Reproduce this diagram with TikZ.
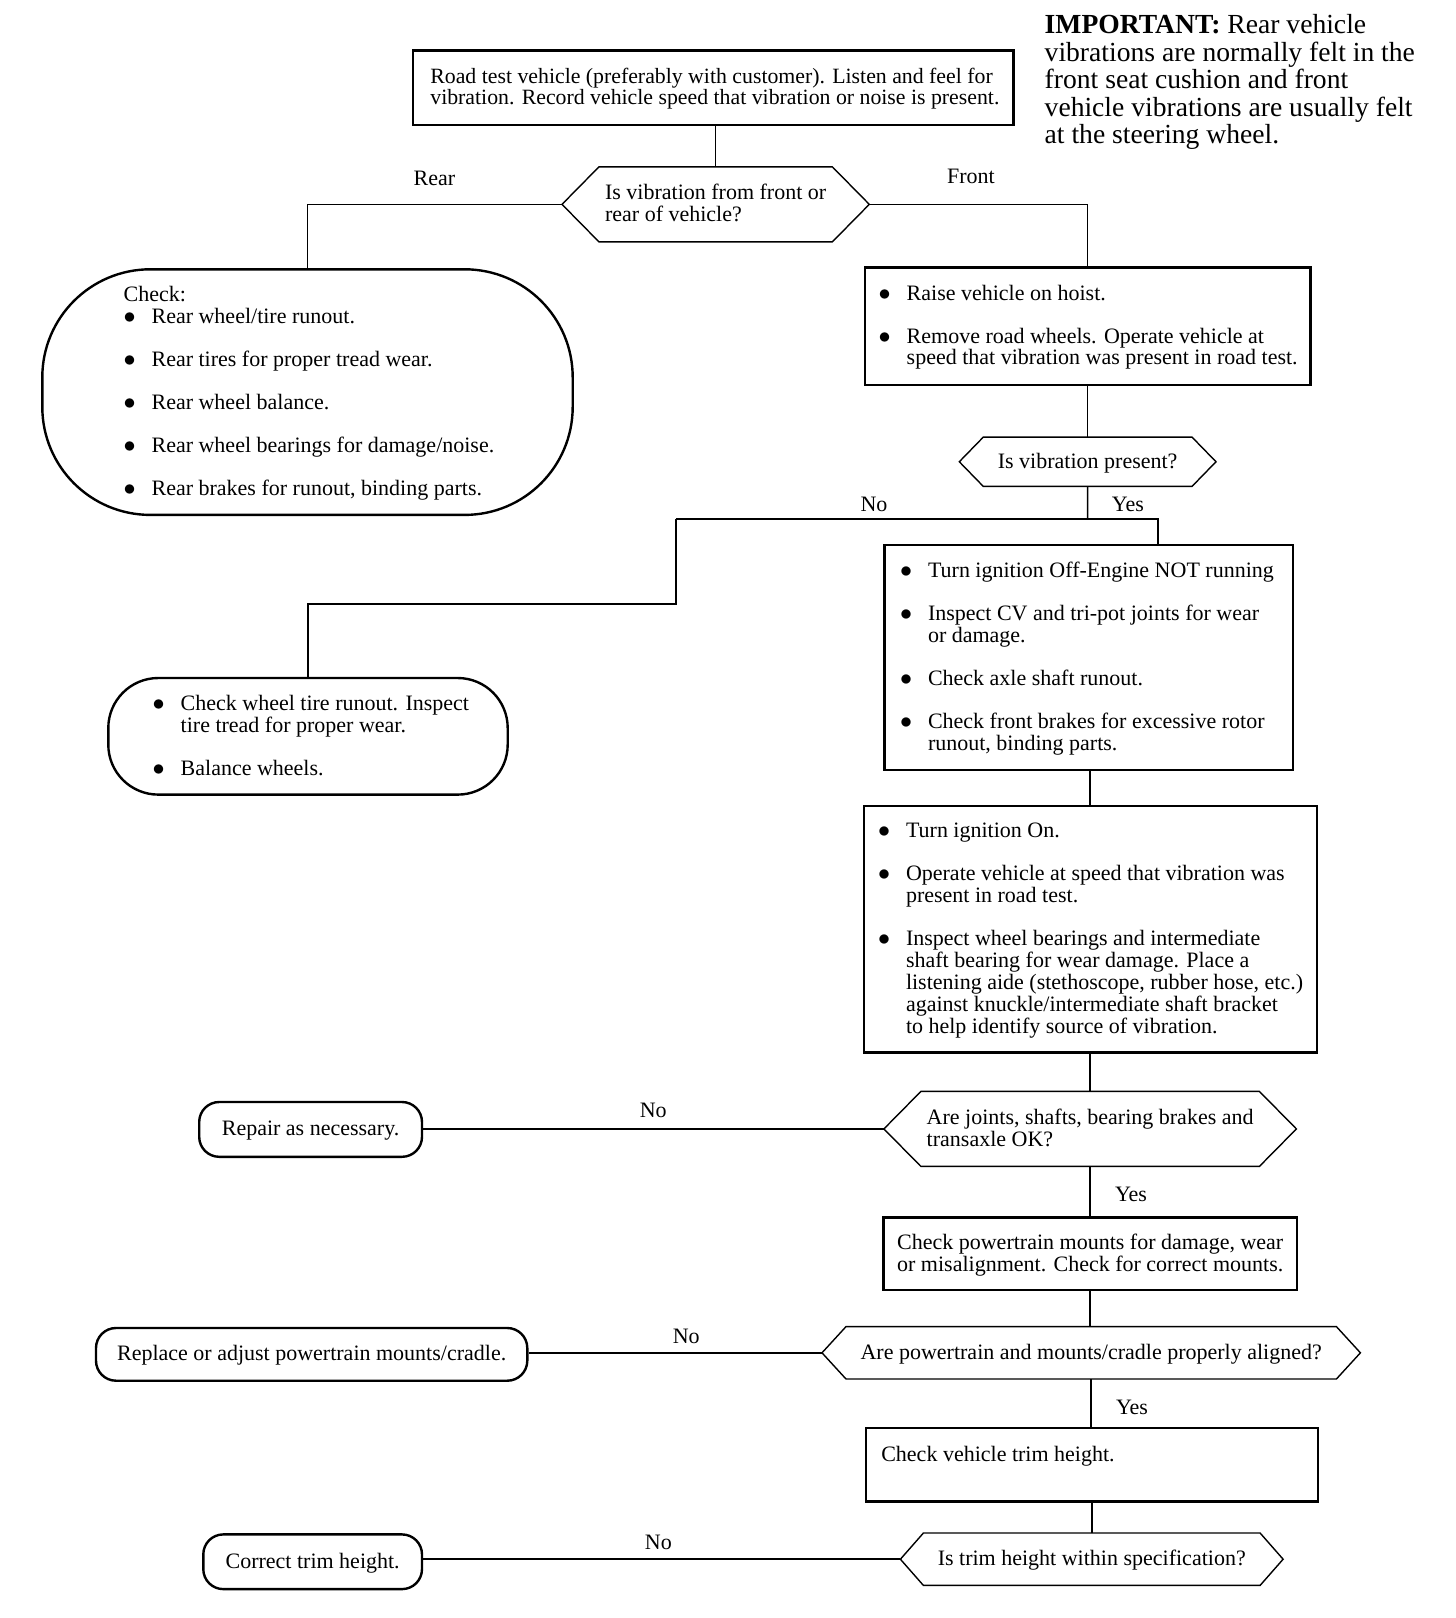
\documentclass[tikz,border=0pt]{standalone}
\usepackage{fontspec}
\setmainfont{Liberation Serif}
\usepackage{graphicx}
\usetikzlibrary{calc}
\newcommand\bul{\makebox[14pt][l]{\smash{\scalebox{1.1}{$\bullet$}}}}
\newcommand\ind{\hspace*{14pt}}
\newcommand\btext[2]{\raisebox{-1pt}[\height][\depth]{\makebox[#1][l]{\begin{tabular}{@{}l@{}}#2\end{tabular}}}}
\newcommand\tl[1]{\raisebox{-1pt}[\height][\depth]{\begin{tabular}{@{}l@{}}#1\end{tabular}}}
\newcommand\hexpath[2]{\draw[hexline] (#1.west) -- ([xshift=#2]#1.north west) -- ([xshift=-#2]#1.north east) -- (#1.east) -- ([xshift=-#2]#1.south east) -- ([xshift=#2]#1.south west) -- cycle;}
\tikzset{
  txt/.style={font=\fontsize{11}{10.8}\selectfont, inner sep=0pt},
  box/.style={draw, line width=1.2pt, rectangle, inner sep=0pt, txt},
  oval/.style={box, rounded corners=#1},
  hexnode/.style={rectangle, inner sep=0pt, txt},
  hexline/.style={line width=0.7pt, line join=miter},
  conn/.style={line width=0.8pt},
  lab/.style={txt, anchor=base},
}
\begin{document}
\begin{tikzpicture}[x=0.5pt,y=-0.5pt]
\path[use as bounding box] (0,0) rectangle (1456,1618);

% note
\node[anchor=base west, inner sep=0pt, font=\fontsize{13.8}{13.7}\selectfont] (note) at (1044.3,33.5)
  {\begin{tabular}[t]{@{}l@{}}\textbf{IMPORTANT:} Rear vehicle\\ vibrations are normally felt in the\\ front seat cushion and front\\ vehicle vibrations are usually felt\\ at the steering wheel.\end{tabular}};

% top box
\node[box, font=\fontsize{10.9}{10.8}\selectfont, minimum width=300.25pt, minimum height=37.15pt] (top) at (713.05,87.75)
  {\btext{282.7pt}{Road test vehicle (preferably with customer). Listen and feel for\\ vibration. Record vehicle speed that vibration or noise is present.}};

% hexagon 1
\node[hexnode, minimum width=153.25pt, minimum height=37.15pt] (h1) at (715.65,204.35)
  {\tl{Is vibration from front or\\ rear of vehicle?}};
\hexpath{h1}{18.5pt}

% rear oval
\node[oval=54pt, minimum width=265.2pt, minimum height=122.8pt] (rear) at (307.5,392.1)
  {\btext{183.9pt}{Check:\\ \bul Rear wheel/tire runout.\\[10.6pt] \bul Rear tires for proper tread wear.\\[10.6pt] \bul Rear wheel balance.\\[10.6pt] \bul Rear wheel bearings for damage/noise.\\[10.6pt] \bul Rear brakes for runout, binding parts.}};

% front box 1
\node[box, minimum width=222.9pt, minimum height=58.8pt] (f1) at (1087.6,326.1)
  {\btext{208.9pt}{\bul Raise vehicle on hoist.\\[10.6pt] \bul Remove road wheels. Operate vehicle at\\ \ind speed that vibration was present in road test.}};

% hexagon 2
\node[hexnode, minimum width=127.95pt, minimum height=24.25pt] (h2) at (1087.65,461.75) {\tl{Is vibration present?}};
\hexpath{h2}{12pt}

\coordinate (j1) at (1087.6,519);
\coordinate (c1) at (1157.8,519);
\coordinate (c2) at (675.9,519);
\coordinate (c3) at (675.9,603.7);
\coordinate (c4) at (308,603.7);

% yes box
\node[box, minimum width=204.35pt, minimum height=112.5pt] (y1) at (1088.65,657.3)
  {\btext{188.65pt}{\bul Turn ignition Off-Engine NOT running\\[10.6pt] \bul Inspect CV and tri-pot joints for wear\\ \ind or damage.\\[10.6pt] \bul Check axle shaft runout.\\[10.6pt] \bul Check front brakes for excessive rotor\\ \ind runout, binding parts.}};

% no oval
\node[oval=25pt, minimum width=199.7pt, minimum height=58.3pt] (no1) at (308,736.3)
  {\btext{155.3pt}{\bul Check wheel tire runout. Inspect\\ \ind tire tread for proper wear.\\[10.6pt] \bul Balance wheels.}};

% box 4
\node[box, minimum width=226.5pt, minimum height=123.3pt] (b4) at (1090.2,929.2)
  {\btext{212.2pt}{\bul Turn ignition On.\\[10.6pt] \bul Operate vehicle at speed that vibration was\\ \ind present in road test.\\[10.6pt] \bul Inspect wheel bearings and intermediate\\ \ind shaft bearing for wear damage. Place a\\ \ind listening aide (stethoscope, rubber hose, etc.)\\ \ind against knuckle/intermediate shaft bracket\\ \ind to help identify source of vibration.}};

% hexagon 3
\node[hexnode, minimum width=205.85pt, minimum height=37.1pt] (h3) at (1090.15,1128.9)
  {\tl{Are joints, shafts, bearing brakes and\\ transaxle OK?}};
\hexpath{h3}{18.5pt}

\node[oval=10pt, minimum width=111.4pt, minimum height=27.4pt] (rep) at (310.6,1129.4) {\tl{Repair as necessary.}};

% powertrain box
\node[box, minimum width=206.9pt, minimum height=36.15pt] (pt) at (1090.2,1253.75)
  {\tl{Check powertrain mounts for damage, wear\\ or misalignment. Check for correct mounts.}};

% hexagon 4
\node[hexnode, minimum width=268.8pt, minimum height=25.8pt] (h4) at (1091.2,1352.8) {\tl{Are powertrain and mounts/cradle properly aligned?}};
\hexpath{h4}{12pt}

\node[oval=10pt, minimum width=215.65pt, minimum height=26.35pt] (repl) at (311.65,1354.35) {\tl{Replace or adjust powertrain mounts/cradle.}};

% trim box
\node[box, minimum width=225.95pt, minimum height=36.6pt, text height=16.5pt, text depth=20.1pt] (trim) at (1091.75,1464.8)
  {\makebox[210.45pt][l]{Check vehicle trim height.}};

% hexagon 5
\node[hexnode, minimum width=190.95pt, minimum height=25.8pt] (h5) at (1091.75,1559.2) {\tl{Is trim height within specification?}};
\hexpath{h5}{11.5pt}

\node[oval=10pt, minimum width=109.35pt, minimum height=27.35pt] (cor) at (312.65,1561.75) {\tl{Correct trim height.}};

% connectors
\draw[conn] (h1.north) -- (h1.north |- top.south);
\draw[conn] (h1.west) -| (rear.north);
\draw[conn] (h1.east) -| (f1.north);
\draw[conn] (f1.south) -- (f1.south |- h2.north);
\draw[conn] (h2.south) -- (j1);
\draw[conn] (c2) -- (c1) -- (c1 |- y1.north);
\draw[conn] (c2) -- (c3) -- (c4) -- (no1.north);
\draw[conn] (b4.north) -- (b4.north |- y1.south);
\draw[conn] (b4.south) -- (b4.south |- h3.north);
\draw[conn] (h3.west) -- (h3.west -| rep.east);
\draw[conn] (h3.south) -- (h3.south |- pt.north);
\draw[conn] (pt.south) -- (pt.south |- h4.north);
\draw[conn] (h4.west) -- (h4.west -| repl.east);
\draw[conn] (h4.south) -- (h4.south |- trim.north);
\draw[conn] (trim.south) -- (trim.south |- h5.north);
\draw[conn] (h5.west) -- (h5.west -| cor.east);

% labels
\node[lab] (lrear) at (434.4,185.5) {Rear};
\node[lab] (lfront) at (971,183.5) {Front};
\node[lab] (lno1) at (874,511.6) {No};
\node[lab] (lyes1) at (1127.9,511.6) {Yes};
\node[lab] (lno2) at (653.2,1117.3) {No};
\node[lab] (lyes2) at (1131,1201) {Yes};
\node[lab] (lno3) at (686.2,1343.3) {No};
\node[lab] (lyes3) at (1132,1414.5) {Yes};
\node[lab] (lno4) at (658.4,1549.7) {No};
\end{tikzpicture}
\end{document}
